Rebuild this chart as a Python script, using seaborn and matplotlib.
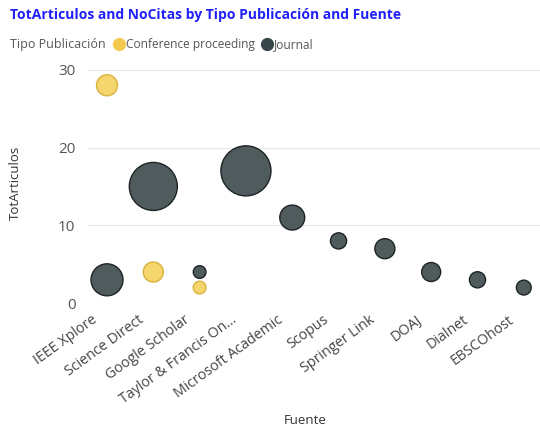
import matplotlib
matplotlib.use("Agg")
import matplotlib.pyplot as plt
import matplotlib.transforms as mtransforms
from matplotlib.lines import Line2D
import pandas as pd
import seaborn as sns

# データ
fuente = ["IEEE Xplore", "IEEE Xplore", "Science Direct", "Science Direct",
          "Google Scholar", "Google Scholar", "Taylor & Francis On…",
          "Microsoft Academic", "Scopus", "Springer Link", "DOAJ",
          "Dialnet", "EBSCOhost"]
tipo = ["Conference proceeding", "Journal", "Conference proceeding", "Journal",
        "Journal", "Conference proceeding", "Journal",
        "Journal", "Journal", "Journal", "Journal",
        "Journal", "Journal"]
tot_articulos = [28, 3, 4, 15, 4, 2, 17, 11, 8, 7, 4, 3, 2]
no_citas = [22, 51, 20, 115, 8, 8, 125, 31, 13, 20, 18, 13, 11]

tipos = ["Conference proceeding", "Journal"]
colores = {"Conference proceeding": "#F4D56E", "Journal": "#505B5E"}
bordes = {"Conference proceeding": "#D8B23C", "Journal": "#1E2426"}
colores_leyenda = {"Conference proceeding": "#F2C94C", "Journal": "#374649"}

df = pd.DataFrame({"Fuente": fuente, "Tipo Publicación": tipo,
                   "TotArticulos": tot_articulos, "NoCitas": no_citas})

sns.set_theme(style="white")
plt.rcParams["font.family"] = ["Open Sans", "DejaVu Sans"]

fig = plt.figure(figsize=(5.4, 4.3), dpi=100, facecolor="white")
ax = fig.add_axes([0.163, 0.295, 0.837, 0.561])

sns.scatterplot(data=df, x="Fuente", y="TotArticulos",
                hue="Tipo Publicación", hue_order=tipos, palette=colores,
                size="NoCitas", sizes=(0, 1300), size_norm=(0, 125),
                linewidth=1.0, alpha=1, legend=False, ax=ax, clip_on=False, zorder=3)

# 縁の色
coll = ax.collections[0]
coll.set_edgecolors([bordes[t] for t in df["Tipo Publicación"]])

ax.set_xlim(-0.41, 9.35)
ax.set_ylim(0, 31)
ax.set_yticks([0, 10, 20, 30])
ax.grid(axis="y", color="#E8E8E8", linewidth=0.9)
ax.grid(axis="x", visible=False)
for s in ax.spines.values():
    s.set_visible(False)

ax.tick_params(axis="y", length=0, colors="#555555", labelsize=11, pad=9)
ax.tick_params(axis="x", length=0, colors="#444444", labelsize=10.3, pad=11)
desplazamiento = mtransforms.ScaledTranslation(-0.11, 0, fig.dpi_scale_trans)
for etiqueta in ax.get_xticklabels():
    etiqueta.set_rotation(36)
    etiqueta.set_ha("right")
    etiqueta.set_va("center")
    etiqueta.set_rotation_mode("anchor")
    etiqueta.set_transform(etiqueta.get_transform() + desplazamiento)

ax.set_xlabel("Fuente", fontsize=9.5, color="#333333")
ax.xaxis.set_label_coords(0.48, -0.485)
ax.xaxis.label.set_va("center")
ax.set_ylabel("TotArticulos", fontsize=9.5, color="#333333")
ax.yaxis.set_label_coords(-0.16, 0.5)
ax.yaxis.label.set_va("center")

# タイトルと凡例
fig.text(0.018, 0.965, "TotArticulos and NoCitas by Tipo Publicación and Fuente",
         fontsize=10, fontweight="bold", color="#2020F8", va="center")
fig.text(0.018, 0.897, "Tipo Publicación", fontsize=9, color="#555555", va="center")
handles = [Line2D([], [], marker="o", linestyle="", markersize=8.5,
                  markerfacecolor=colores_leyenda[t], markeredgecolor=colores_leyenda[t])
           for t in tipos]
fig.legend(handles, tipos, loc="center left", bbox_to_anchor=(0.207, 0.897),
           ncol=2, frameon=False, fontsize=8.6, handletextpad=0.0,
           columnspacing=0.45, handlelength=1.15, labelcolor="#555555",
           borderaxespad=0, borderpad=0)

fig.savefig("out.png", dpi=100, facecolor="white")
